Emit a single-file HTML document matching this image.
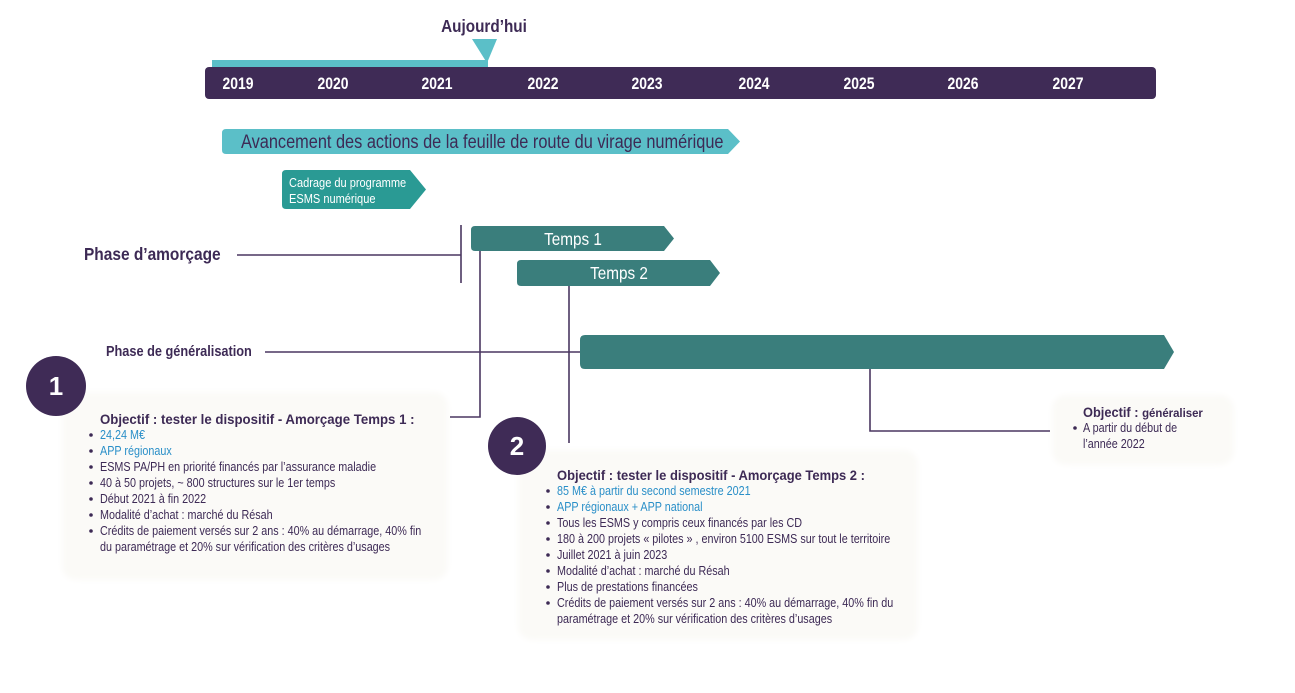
<!DOCTYPE html>
<html><head><meta charset="utf-8"><style>
html,body{margin:0;padding:0;background:#fff;}
svg{display:block;font-family:"Liberation Sans",sans-serif;}
</style></head><body>
<svg width="1295" height="693" viewBox="0 0 1295 693" xmlns="http://www.w3.org/2000/svg">
<defs>
<filter id="bl" x="-10%" y="-10%" width="120%" height="120%"><feGaussianBlur stdDeviation="3"/></filter>
</defs>
<rect width="1295" height="693" fill="#fff"/>
<rect x="62" y="392" width="386" height="188" rx="14" fill="#fbfaf7" filter="url(#bl)"/>
<rect x="518" y="450" width="400" height="190" rx="14" fill="#fbfaf7" filter="url(#bl)"/>
<rect x="1052" y="395" width="182" height="70" rx="14" fill="#fbfaf7" filter="url(#bl)"/>

<rect x="212" y="60" width="276" height="7" fill="#5bbfc8"/>
<polygon points="472,39 497,39 487,63" fill="#5bbfc8"/>
<g transform="translate(484,32) scale(.85,1)"><text text-anchor="middle" font-size="18" font-weight="bold" fill="#3d2a55">Aujourd’hui</text></g>

<rect x="205" y="67" width="951" height="32" rx="4" fill="#3f2b56"/>
<g font-size="17" font-weight="bold" fill="#fff" text-anchor="middle">
<g transform="translate(238,89) scale(.82,1)"><text>2019</text></g>
<g transform="translate(333,89) scale(.82,1)"><text>2020</text></g>
<g transform="translate(437,89) scale(.82,1)"><text>2021</text></g>
<g transform="translate(543,89) scale(.82,1)"><text>2022</text></g>
<g transform="translate(647,89) scale(.82,1)"><text>2023</text></g>
<g transform="translate(754,89) scale(.82,1)"><text>2024</text></g>
<g transform="translate(859,89) scale(.82,1)"><text>2025</text></g>
<g transform="translate(963,89) scale(.82,1)"><text>2026</text></g>
<g transform="translate(1068,89) scale(.82,1)"><text>2027</text></g>
</g>

<path d="M226,129 L728,129 L740,141.5 L728,154 L226,154 Q222,154 222,150 L222,133 Q222,129 226,129Z" fill="#5bbfc8"/>
<g transform="translate(241,148) scale(.86,1)"><text font-size="19" fill="#3d2a55">Avancement des actions de la feuille de route du virage numérique</text></g>

<path d="M286,170 L410,170 L426,189.5 L410,209 L286,209 Q282,209 282,205 L282,174 Q282,170 286,170Z" fill="#2a9a94"/>
<g font-size="13" fill="#fff">
<g transform="translate(289,187) scale(.85,1)"><text>Cadrage du programme</text></g>
<g transform="translate(289,203) scale(.85,1)"><text>ESMS numérique</text></g>
</g>

<g stroke="#4a3760" stroke-width="1.6" fill="none">
<line x1="237" y1="255" x2="461" y2="255"/>
<line x1="461" y1="225" x2="461" y2="283"/>
<polyline points="480,251 480,417 450,417"/>
<line x1="569" y1="286" x2="569" y2="443"/>
<line x1="265" y1="352" x2="580" y2="352"/>
<polyline points="870,369 870,431 1050,431"/>
</g>

<g transform="translate(84,260) scale(.86,1)"><text font-size="18" font-weight="bold" fill="#3d2a55">Phase d’amorçage</text></g>
<g transform="translate(106,356) scale(.85,1)"><text font-size="15" font-weight="bold" fill="#3d2a55">Phase de généralisation</text></g>

<path d="M475,226 L664,226 L674,238.5 L664,251 L475,251 Q471,251 471,247 L471,230 Q471,226 475,226Z" fill="#3a7e7c"/>
<g transform="translate(573,245) scale(.85,1)"><text text-anchor="middle" font-size="18" fill="#fff">Temps 1</text></g>
<path d="M521,260 L710,260 L720,273 L710,286 L521,286 Q517,286 517,282 L517,264 Q517,260 521,260Z" fill="#3a7e7c"/>
<g transform="translate(619,279) scale(.85,1)"><text text-anchor="middle" font-size="18" fill="#fff">Temps 2</text></g>
<path d="M585,335 L1164,335 L1174,352 L1164,369 L585,369 Q580,369 580,364 L580,340 Q580,335 585,335Z" fill="#3a7e7c"/>

<circle cx="56" cy="386" r="30" fill="#3f2b56"/>
<text x="56" y="395" text-anchor="middle" font-size="26" font-weight="bold" fill="#fff">1</text>
<circle cx="517" cy="446" r="29" fill="#3f2b56"/>
<text x="517" y="455" text-anchor="middle" font-size="26" font-weight="bold" fill="#fff">2</text>

<g transform="translate(100,424) scale(.98,1)"><text font-size="13.5" font-weight="bold" fill="#3d2a55">Objectif : tester le dispositif - Amorçage Temps 1 :</text></g>
<g fill="#3d2a55">
<circle cx="91" cy="435" r="1.8"/><circle cx="91" cy="451" r="1.8"/><circle cx="91" cy="467" r="1.8"/><circle cx="91" cy="483" r="1.8"/><circle cx="91" cy="499" r="1.8"/><circle cx="91" cy="515" r="1.8"/><circle cx="91" cy="531" r="1.8"/>
</g>
<g font-size="13">
<g transform="translate(100,439) scale(.83,1)"><text fill="#2a8fc8">24,24 M€</text></g>
<g transform="translate(100,455) scale(.83,1)"><text fill="#2a8fc8">APP régionaux</text></g>
<g fill="#3d2a55">
<g transform="translate(100,471) scale(.83,1)"><text>ESMS PA/PH en priorité financés par l’assurance maladie</text></g>
<g transform="translate(100,487) scale(.83,1)"><text>40 à 50 projets, ~ 800 structures sur le 1er temps</text></g>
<g transform="translate(100,503) scale(.83,1)"><text>Début 2021 à fin 2022</text></g>
<g transform="translate(100,519) scale(.83,1)"><text>Modalité d’achat : marché du Résah</text></g>
<g transform="translate(100,535) scale(.83,1)"><text>Crédits de paiement versés sur 2 ans : 40% au démarrage, 40% fin</text></g>
<g transform="translate(100,551) scale(.83,1)"><text>du paramétrage et 20% sur vérification des critères d’usages</text></g>
</g></g>

<g transform="translate(557,480) scale(.96,1)"><text font-size="13.5" font-weight="bold" fill="#3d2a55">Objectif : tester le dispositif - Amorçage Temps 2 :</text></g>
<g fill="#3d2a55">
<circle cx="548" cy="491" r="1.8"/><circle cx="548" cy="507" r="1.8"/><circle cx="548" cy="523" r="1.8"/><circle cx="548" cy="539" r="1.8"/><circle cx="548" cy="555" r="1.8"/><circle cx="548" cy="571" r="1.8"/><circle cx="548" cy="587" r="1.8"/><circle cx="548" cy="603" r="1.8"/>
</g>
<g font-size="13">
<g transform="translate(557,495) scale(.83,1)"><text fill="#2a8fc8">85 M€ à partir du second semestre 2021</text></g>
<g transform="translate(557,511) scale(.83,1)"><text fill="#2a8fc8">APP régionaux + APP national</text></g>
<g fill="#3d2a55">
<g transform="translate(557,527) scale(.83,1)"><text>Tous les ESMS y compris ceux financés par les CD</text></g>
<g transform="translate(557,543) scale(.83,1)"><text>180 à 200 projets « pilotes » , environ 5100 ESMS sur tout le territoire</text></g>
<g transform="translate(557,559) scale(.83,1)"><text>Juillet 2021 à juin 2023</text></g>
<g transform="translate(557,575) scale(.83,1)"><text>Modalité d’achat : marché du Résah</text></g>
<g transform="translate(557,591) scale(.83,1)"><text>Plus de prestations financées</text></g>
<g transform="translate(557,607) scale(.83,1)"><text>Crédits de paiement versés sur 2 ans : 40% au démarrage, 40% fin du</text></g>
<g transform="translate(557,623) scale(.83,1)"><text>paramétrage et 20% sur vérification des critères d’usages</text></g>
</g></g>

<g transform="translate(1083,417) scale(.95,1)"><text font-size="13.5" font-weight="bold" fill="#3d2a55">Objectif : <tspan font-size="12">généraliser</tspan></text></g>
<circle cx="1075" cy="428" r="1.8" fill="#3d2a55"/>
<g font-size="13" fill="#3d2a55">
<g transform="translate(1083,432) scale(.83,1)"><text>A partir du début de</text></g>
<g transform="translate(1083,448) scale(.83,1)"><text>l’année 2022</text></g>
</g>
</svg>
</body></html>
